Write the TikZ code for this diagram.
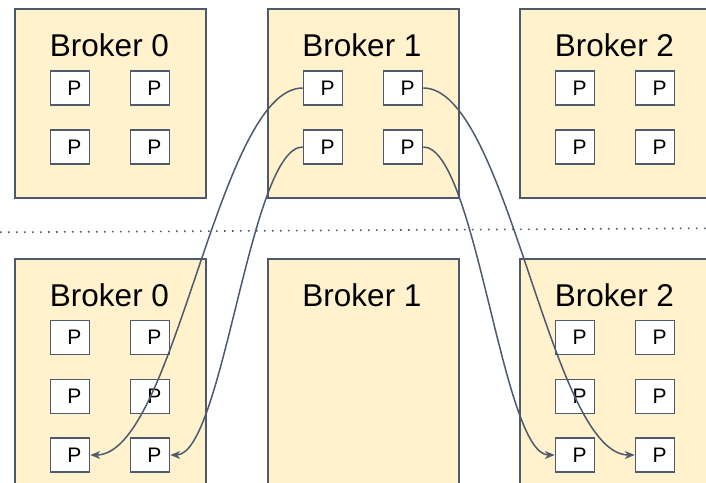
\documentclass[tikz,border=0pt]{standalone}
\usepackage{fontspec}
\setmainfont{Liberation Sans}
\usetikzlibrary{arrows.meta, calc}

\definecolor{slate}{HTML}{4D5A6E}
\definecolor{cream}{HTML}{FFF2CC}

\begin{document}
\begin{tikzpicture}[
  x=1pt, y=1pt,
  broker/.style={
    draw=slate, fill=cream, line width=1.8pt,
    anchor=north west, inner sep=0pt,
    minimum width=191pt, minimum height=189pt
  },
  title/.style={
    anchor=base, inner sep=0pt,
    font=\fontsize{31.5}{36}\selectfont
  },
  part/.style={
    draw=slate, fill=white, line width=1.6pt,
    minimum width=39pt, minimum height=34pt, inner sep=0pt,
    font=\fontsize{21}{24}\selectfont,
    execute at begin node=\hspace*{9pt}
  },
  curvy/.style={
    to path={let \p1=(\tikztostart), \p2=(\tikztotarget) in
      .. controls ({0.6*\x1+0.4*\x2},\y1) and ({0.4*\x1+0.6*\x2},\y2)
      .. (\tikztotarget)}
  },
  link/.style={
    draw=slate, line width=1.5pt, curvy,
    arrows={-Stealth[length=10pt, width=8pt]}
  }
]
\useasboundingbox (0,0) rectangle (706,482);
\clip (0,0) rectangle (706,482);

% ----- Before -----
\node[broker] (tb0) at (14,474) {};
\node[broker] (tb1) at (267,474) {};
\node[broker, minimum width=200pt] (tb2) at (519,474) {};

\node[title] (tb0name) at (109.5,425) {Broker 0};
\node[title] (tb1name) at (362,425) {Broker 1};
\node[title] (tb2name) at (614.5,425) {Broker 2};

\node[part] (t0a) at (70,394) {P};
\node[part] (t0b) at (150,394) {P};
\node[part] (t0c) at (70,335) {P};
\node[part] (t0d) at (150,335) {P};

\node[part] (t1a) at (323,394) {P};
\node[part] (t1b) at (403,394) {P};
\node[part] (t1c) at (323,335) {P};
\node[part] (t1d) at (403,335) {P};

\node[part] (t2a) at (575,394) {P};
\node[part] (t2b) at (655,394) {P};
\node[part] (t2c) at (575,335) {P};
\node[part] (t2d) at (655,335) {P};

% ----- Separator -----
\draw[slate, line width=1.6pt, dash pattern=on 1.6pt off 6.4pt]
  (0,249.7) -- (706,253.7);

% ----- After -----
\node[broker, minimum height=230pt] (bb0) at (14,224) {};
\node[broker, minimum height=230pt] (bb1) at (267,224) {};
\node[broker, minimum height=230pt, minimum width=200pt] (bb2) at (519,224) {};

\node[title] (bb0name) at (109.5,175) {Broker 0};
\node[title] (bb1name) at (362,175) {Broker 1};
\node[title] (bb2name) at (614.5,175) {Broker 2};

\node[part] (b0a) at (70,144.5) {P};
\node[part] (b0b) at (150,144.5) {P};
\node[part] (b0c) at (70,85.5) {P};
\node[part] (b0d) at (150,85.5) {P};
\node[part] (b0e) at (70,27) {P};
\node[part] (b0f) at (150,27) {P};

\node[part] (b2a) at (575,144.5) {P};
\node[part] (b2b) at (655,144.5) {P};
\node[part] (b2c) at (575,85.5) {P};
\node[part] (b2d) at (655,85.5) {P};
\node[part] (b2e) at (575,27) {P};
\node[part] (b2f) at (655,27) {P};

% ----- Moves -----
\draw[link] (t1a.west) to (b0e.east);
\draw[link] (t1c.west) to (b0f.east);
\draw[link] (t1b.east) to (b2f.west);
\draw[link] (t1d.east) to (b2e.west);

\end{tikzpicture}
\end{document}
